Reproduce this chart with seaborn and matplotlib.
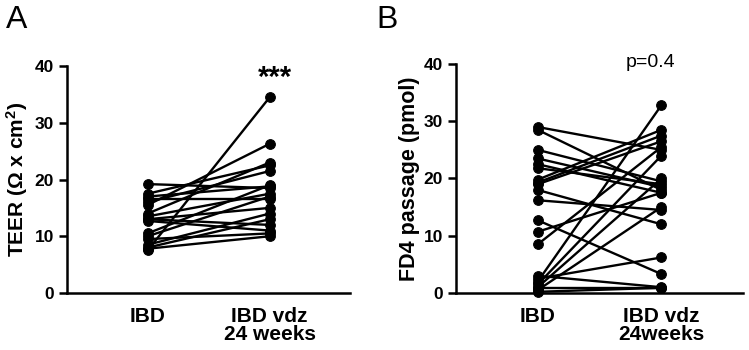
import matplotlib
matplotlib.use('Agg')
import matplotlib.pyplot as plt
import seaborn as sns
import pandas as pd

groups = ['IBD', 'IBD vdz\n24 weeks']
groups_b = ['IBD', 'IBD vdz\n24weeks']

# paired values (same patient, before / after)
teer_ibd = [7.5, 19.2, 17.5, 17.0, 16.5, 16.0, 15.5, 14.0, 13.5, 13.0, 13.0, 12.7, 10.5, 10.0, 9.5, 8.5, 8.0, 7.8]
teer_vdz = [34.5, 18.5, 22.5, 18.8, 16.5, 21.5, 26.3, 23.0, 17.5, 15.0, 12.0, 11.0, 19.0, 17.0, 10.5, 14.0, 13.0, 10.0]

fd4_ibd = [29.0, 28.5, 25.0, 23.5, 22.5, 21.8, 19.8, 19.3, 19.0, 18.0, 16.2, 12.7, 10.7, 8.5, 3.0, 2.5, 2.0, 1.5, 1.0, 0.5, 0.8, 0.2]
fd4_vdz = [25.0, 18.0, 19.5, 18.5, 17.5, 19.0, 28.5, 27.5, 26.5, 12.0, 14.5, 3.3, 17.5, 25.5, 1.0, 6.2, 32.8, 24.0, 20.0, 15.0, 0.8, 0.9]


def long_df(before, after, labels):
    rows = {'subject': [], 'group': [], 'value': []}
    for i, (b, a) in enumerate(zip(before, after)):
        rows['subject'] += [i, i]
        rows['group'] += labels
        rows['value'] += [b, a]
    return pd.DataFrame(rows)


def main():
    sns.set_style('ticks')
    plt.rcParams['font.family'] = ['Liberation Sans', 'DejaVu Sans']
    plt.rcParams['mathtext.fontset'] = 'custom'
    plt.rcParams['mathtext.rm'] = 'Liberation Sans:bold'
    plt.rcParams['mathtext.it'] = 'Liberation Sans:bold'
    plt.rcParams['mathtext.bf'] = 'Liberation Sans:bold'
    for k in ['text.color', 'axes.labelcolor', 'xtick.color', 'ytick.color', 'axes.edgecolor']:
        plt.rcParams[k] = 'black'

    fig = plt.figure(figsize=(7.49, 3.5), dpi=100)
    ax_a = fig.add_axes([0.0895, 0.163, 0.378, 0.648])
    ax_b = fig.add_axes([0.609, 0.163, 0.383, 0.654])

    panels = [
        (ax_a, long_df(teer_ibd, teer_vdz, groups), r'TEER ($\Omega$ x cm$^2$)', 15, -0.13),
        (ax_b, long_df(fd4_ibd, fd4_vdz, groups_b), 'FD4 passage (pmol)', 15.5, -0.125),
    ]

    for ax, df, ylab, ysize, ypos in panels:
        sns.lineplot(data=df, x='group', y='value', units='subject', estimator=None,
                     color='black', marker='o', markersize=7, markeredgecolor='black',
                     linewidth=1.7, ax=ax, legend=False)
        ax.set_xlim(-0.66, 1.66)
        ax.set_ylim(0, 40)
        ax.set_yticks([0, 10, 20, 30, 40])
        ax.set_xlabel('')
        ax.set_ylabel(ylab, fontsize=ysize, fontweight='bold')
        ax.yaxis.set_label_coords(ypos, 0.5)
        for s in ['top', 'right']:
            ax.spines[s].set_visible(False)
        for s in ['left', 'bottom']:
            ax.spines[s].set_linewidth(1.8)
        ax.tick_params(axis='y', width=1.8, length=6, labelsize=12.5)
        ax.tick_params(axis='x', length=0, labelsize=15, pad=10)
        for lbl in ax.get_xticklabels() + ax.get_yticklabels():
            lbl.set_fontweight('bold')
        for lbl in ax.get_xticklabels():
            lbl.set_linespacing(0.95)
        ax.patch.set_alpha(0)
        for line in ax.lines:
            line.set_clip_on(False)

    ax_a.text(1.04, 38.0, '***', ha='center', va='center', fontsize=21, fontweight='bold')
    ax_b.text(0.91, 40.3, 'p=0.4', ha='center', va='center', fontsize=14)

    fig.text(0.008, 0.985, 'A', ha='left', va='top', fontsize=23)
    fig.text(0.502, 0.985, 'B', ha='left', va='top', fontsize=23)

    fig.savefig('out.png', dpi=100)
    plt.close(fig)


if __name__ == '__main__':
    main()
